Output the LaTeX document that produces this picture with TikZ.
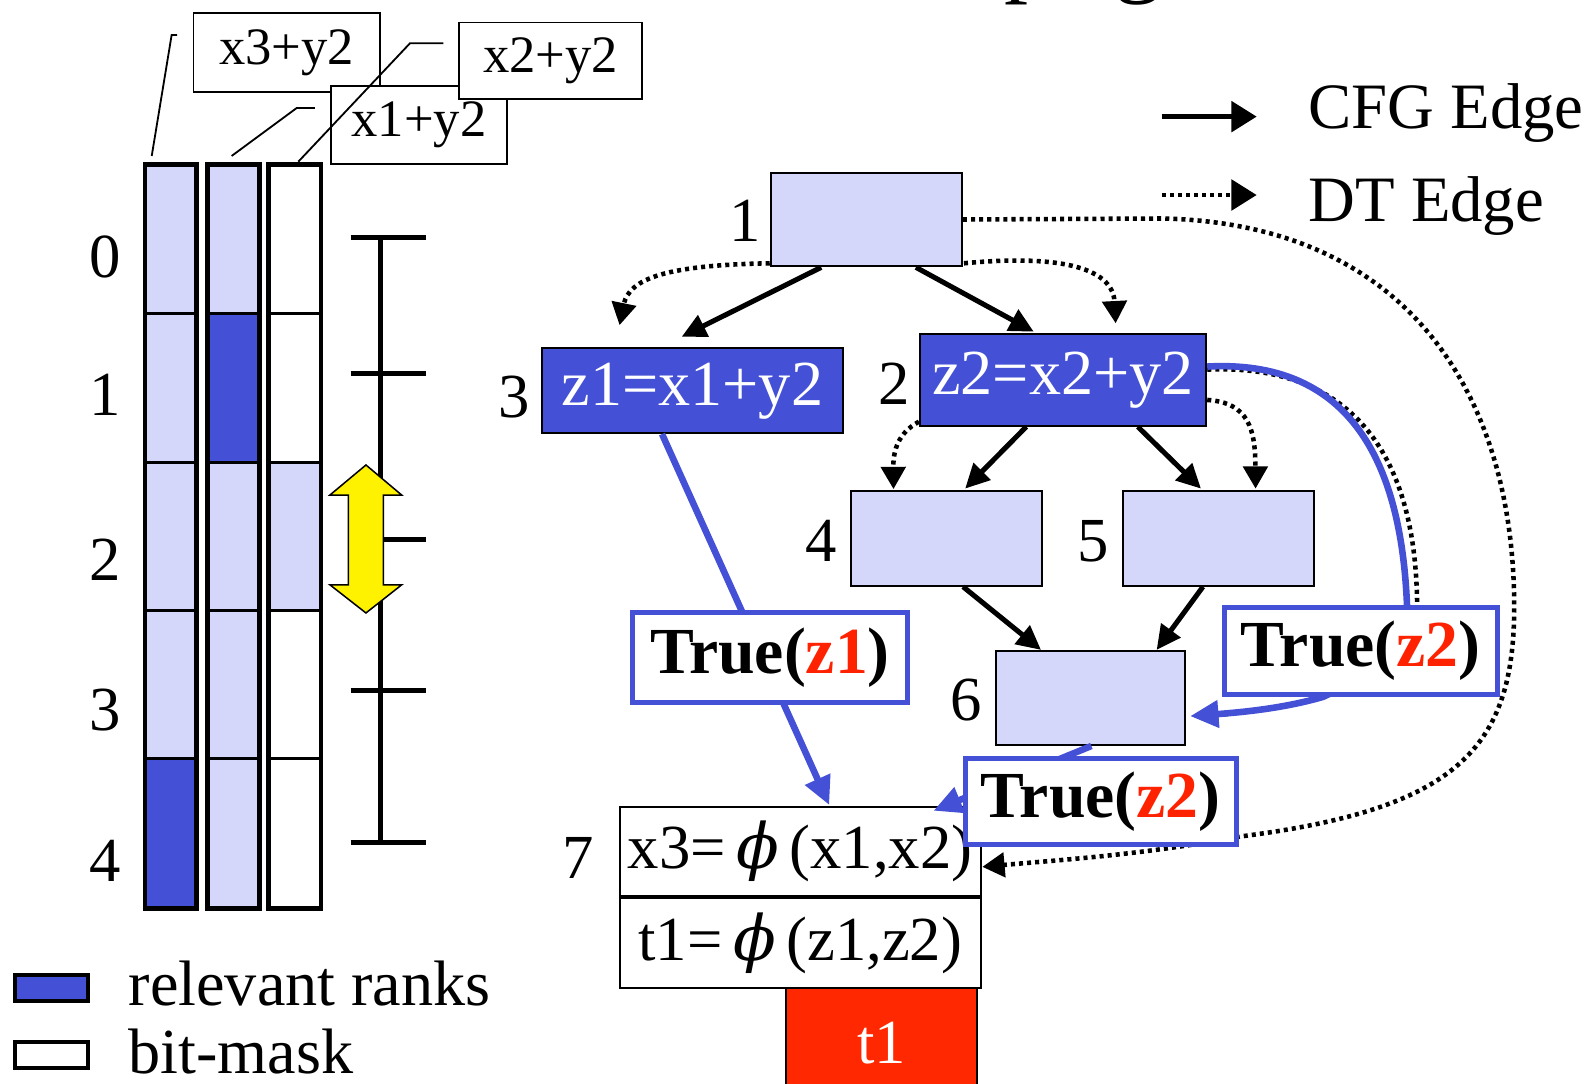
\documentclass[tikz,border=0pt]{standalone}
\usepackage{fontspec}
\setmainfont{Liberation Serif}
\newfontfamily\phifont{DejaVu Serif}
\usetikzlibrary{arrows.meta,calc}
\definecolor{lav}{RGB}{212,215,250}
\definecolor{dblue}{RGB}{68,80,214}
\definecolor{tred}{RGB}{255,40,0}
\definecolor{zred}{RGB}{255,34,0}
\newcommand\fsA{\fontsize{62}{62}\selectfont}
\newcommand\fsN{\fontsize{63.5}{63.5}\selectfont}
\newcommand\fsW{\fontsize{65}{65}\selectfont}
\newcommand\fsR{\fontsize{63.5}{63.5}\selectfont}
\newcommand\fsB{\fontsize{52}{52}\selectfont}
\newcommand\fsL{\fontsize{64}{64}\selectfont}
\newcommand\fsT{\fontsize{95}{95}\selectfont}
\newcommand\myphi{\,{\phifont\itshape ϕ}\,}
\begin{document}
\begin{tikzpicture}[x=1pt,y=-1pt,
 blk/.style={draw=black,line width=2pt,inner sep=0pt,font=\fsA},
 lt/.style={blk,fill=lav},
 dk/.style={blk,fill=dblue,text=white,font=\fsN},
 tbox/.style={draw=dblue,line width=5pt,fill=white,inner sep=0pt,font=\fsW\bfseries},
 lbl/.style={inner sep=0pt,font=\fsA},
 cfg/.style={line width=5pt,-{Triangle[length=24pt,width=23pt]}},
 dtline/.style={line width=4.5pt,dash pattern=on 4pt off 4pt},
 dt/.style={dtline,-{Triangle[length=22pt,width=24pt]}},
 bl/.style={draw=dblue,line width=6.5pt,-{Triangle[length=28pt,width=26pt]}},
 call/.style={draw=black,line width=1.8pt,fill=white,inner sep=0pt,font=\fsB},
 callline/.style={line width=1.8pt},
]
\useasboundingbox (0,0) rectangle (1568,1071);
\fill[white] (0,0) rectangle (1568,1071);

% clipped title fragments
\node[anchor=base west,inner sep=0pt,font=\fsT] (tp) at (993,-15.5) {p};
\node[anchor=base west,inner sep=0pt,font=\fsT] (tg) at (1102,-15.5) {g};

% rank columns
\foreach \xa/\xb/\ca/\cb/\cc/\cd/\ce in {143.3/194.4/lav/lav/lav/lav/dblue, 205/256.4/lav/dblue/lav/lav/lav, 265.3/317.4/white/white/lav/white/white} {
  \filldraw[fill=\ca,line width=3pt] (\xa,162.6) rectangle (\xb,310.2);
  \filldraw[fill=\cb,line width=3pt] (\xa,310.2) rectangle (\xb,457.3);
  \filldraw[fill=\cc,line width=3pt] (\xa,457.3) rectangle (\xb,603.6);
  \filldraw[fill=\cd,line width=3pt] (\xa,603.6) rectangle (\xb,749.7);
  \filldraw[fill=\ce,line width=3pt] (\xa,749.7) rectangle (\xb,898.3);
  \draw[line width=4.5pt] (\xa,162.6) rectangle (\xb,898.3);
}
\node[lbl] (r0) at (104,254.5) {0};
\node[lbl] (r1) at (104,390) {1};
\node[lbl] (r2) at (104,553) {2};
\node[lbl] (r3) at (104,702) {3};
\node[lbl] (r4) at (104,851) {4};

% scale
\draw[line width=5pt] (376.5,234.6) -- (376.5,832.6);
\foreach \y in {234.6,368.8,533,682.6,832.6} \draw[line width=5pt] (346.7,\y) -- (421,\y);
\filldraw[fill=yellow,draw=black,line width=1.5pt] (361.8,459.7) -- (397.1,489.4) -- (379,489.4) -- (379,578.2) -- (397.1,578.2) -- (361.8,606) -- (326.2,578.2) -- (344.4,578.2) -- (344.4,489.4) -- (326.2,489.4) -- cycle;

% callouts
\node[call,minimum width=184.5pt,minimum height=77.3pt] (c3) at (283.5,51.9) {x3+y2};
\node[call,minimum width=174.5pt,minimum height=77.6pt] (c1) at (414.2,123.6) {x1+y2};
\node[call,minimum width=181.4pt,minimum height=76pt] (c2) at (544.3,60.2) {x2+y2};
\coordinate (k3a) at (175,34.6); \coordinate (k3b) at (150,154.2);
\draw[callline] (k3a) -- (169.7,34.6) -- (k3b);
\coordinate (k1a) at (311.4,106.8); \coordinate (k1b) at (229,154.2);
\draw[callline] (k1a) -- (293.3,106.8) -- (k1b);
\coordinate (k2a) at (438.3,42.8); \coordinate (k2b) at (294.9,159.9);
\draw[callline] (k2a) -- (405.3,42.8) -- (k2b);

% legend left bottom
\node[draw=black,line width=4pt,fill=dblue,minimum width=72pt,minimum height=26pt,inner sep=0pt] (lg1) at (51,977) {};
\node[draw=black,line width=4pt,fill=white,minimum width=72pt,minimum height=26pt,inner sep=0pt] (lg2) at (51,1043) {};
\node[anchor=base west,inner sep=0pt,font=\fsR] (lgt1) at (127,993.6) {relevant ranks};
\node[anchor=base west,inner sep=0pt,font=\fsR] (lgt2) at (127,1061) {bit-mask};

% legend top right
\coordinate (la1) at (1148.5,115.3); \coordinate (la2) at (1242.4,115.3);
\draw[line width=4.5pt,-{Triangle[length=25pt,width=30pt]}] (la1) -- (la2);
\coordinate (lb1) at (1148.5,192.8); \coordinate (lb2) at (1242.4,192.8);
\draw[dtline,-{Triangle[length=25pt,width=30pt]}] (lb1) -- (lb2);
\node[anchor=base west,inner sep=0pt,font=\fsL] (lgc) at (1293.5,126.9) {CFG Edge};
\node[anchor=base west,inner sep=0pt,font=\fsL] (lgd) at (1293.5,219) {DT Edge};

% graph nodes
\node[lt,minimum width=189pt,minimum height=92.6pt] (n1) at (856.5,217) {};
\node[dk,minimum width=297pt,minimum height=83.7pt] (n3) at (684.5,386.3) {z1=x1+y2};
\node[dk,minimum width=283pt,minimum height=91pt] (n2) at (1051,375.4) {z2=x2+y2};
\node[lt,minimum width=188.7pt,minimum height=93.5pt] (n4) at (935.7,532.3) {};
\node[lt,minimum width=188.2pt,minimum height=93.5pt] (n5) at (1204.6,532.3) {};
\node[lt,minimum width=187.3pt,minimum height=93pt] (n6) at (1078,690) {};
\node[blk,fill=tred,text=white,minimum width=188pt,minimum height=110pt] (t1) at (871.5,1031) {t1};
\node[blk,fill=white,minimum width=357pt,minimum height=88.3pt] (n7a) at (791.2,842) {x3=\myphi(x1,x2)};
\node[blk,fill=white,minimum width=357pt,minimum height=89pt] (n7b) at (791.2,932.6) {t1=\myphi(z1,z2)};

\node[lbl] (l1) at (736.5,218.4) {1};
\node[lbl] (l2) at (884,379) {2};
\node[lbl] (l3) at (508,393) {3};
\node[lbl] (l4) at (812,534.5) {4};
\node[lbl] (l5) at (1081,534.7) {5};
\node[lbl] (l6) at (955,692) {6};
\node[lbl] (l7) at (572,848) {7};

% CFG edges
\draw[cfg] ($(n1.south)+(-44.6,0)$) -- ($(n3.north)+(-10.5,-10.6)$);
\draw[cfg] ($(n1.south)+(49,0)$) -- ($(n2.north)+(-29,-1)$);
\draw[cfg] ($(n2.south)+(-36.4,0)$) -- ($(n4.north)+(18.5,-1.5)$);
\draw[cfg] ($(n2.south)+(73.9,0)$) -- ($(n5.north)+(-17.3,-1.5)$);
\draw[cfg] ($(n4.south)+(16.4,0)$) -- ($(n6.north)+(-48.8,0)$);
\draw[cfg] ($(n5.south)+(-15.3,0)$) -- ($(n6.north)+(65.5,0)$);

% DT edges
\draw[dt] ($(n1.south west)+(0,-4)$) .. controls (660,262) and (622,275) .. ($(n3.north west)+(77.5,-22)$);
\draw[dt] ($(n1.south east)+(1,-4)$) .. controls (1040,252) and (1100,262) .. ($(n2.north)+(52,-9.3)$);
\draw[dt] ($(n2.south west)+(0,-5)$) .. controls (888,428) and (883,445) .. ($(n4.north west)+(43,-1)$);
\draw[dt] ($(n2.east)+(0,20)$) .. controls (1235,398) and (1241,425) .. ($(n5.north)+(36.7,-1.5)$);
\draw[dt] (n1.east) -- (1150,216) .. controls (1400,222) and (1497,400) .. (1497,600) .. controls (1497,740) and (1440,800) .. (1226,827) .. controls (1130,845) and (1050,850) .. ($(n7a.east)+(0.5,15)$);
\draw[dtline] ($(n2.east)+(0,-10)$) .. controls (1341,359) and (1400,455) .. (1401,598) -- (1401,650) -- (1308,689) .. controls (1270,700) and (1230,704) .. ($(n6.east)+(22,18)$);

% blue edges
\draw[bl] ($(n3.south)+(-30,0)$) -- ($(n7a.north)+(28.6,-1)$);
\draw[bl] ($(n2.east)+(0,-13)$) .. controls (1330,355) and (1385,450) .. (1391,598) -- (1391,650) -- (1308,689) .. controls (1270,700) and (1230,704) .. ($(n6.east)+(4,18)$);
\draw[bl] ($(n6.south)+(1,0)$) -- ($(n7a.north east)+(-47.8,4.7)$);

% True boxes
\node[tbox,minimum width=272.3pt,minimum height=88.8pt] (tz1) at (761.2,650.4) {True(\textcolor{zred}{z1})};
\node[tbox,minimum width=270pt,minimum height=86pt] (tz2a) at (1345.4,643.4) {True(\textcolor{zred}{z2})};
\node[tbox,minimum width=268pt,minimum height=84.5pt] (tz2b) at (1088.3,792.5) {True(\textcolor{zred}{z2})};
\end{tikzpicture}
\end{document}
